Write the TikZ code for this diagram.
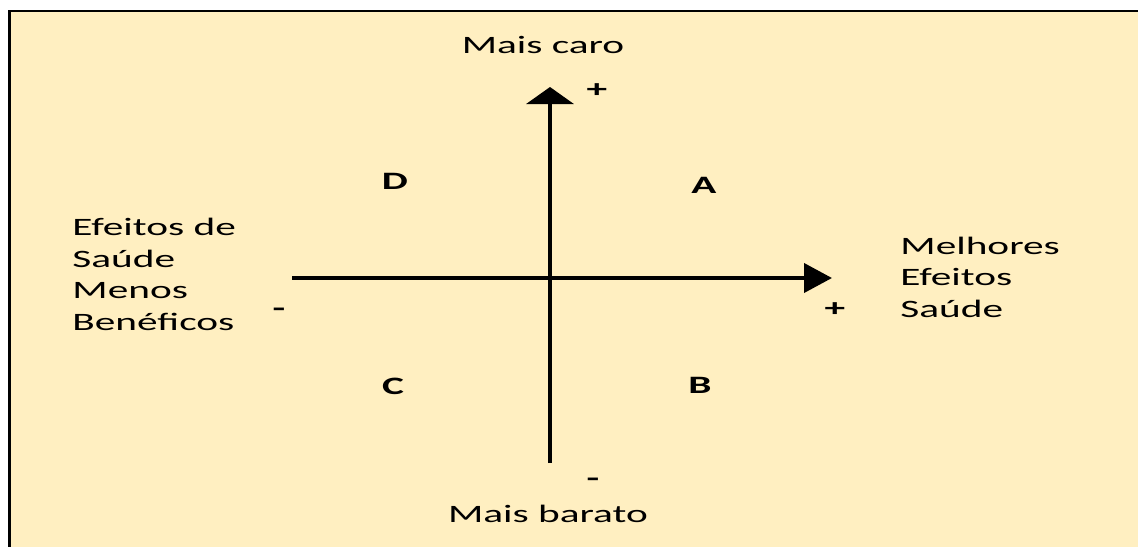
\documentclass[tikz,border=0pt]{standalone}
\usepackage{fontspec}
\setmainfont{Carlito}
\usepackage{tikz}
\usetikzlibrary{arrows.meta,positioning,calc}
\definecolor{creme}{RGB}{255,239,193}

\tikzset{
    rotulo/.style={inner sep=0pt, font=\fontsize{17.8pt}{22.3pt}\selectfont, xscale=1.65},
    quadrante/.style={rotulo, font=\fontsize{17.8pt}{22.3pt}\selectfont\bfseries},
    sinal/.style={rotulo, font=\fontsize{17.8pt}{22.3pt}\selectfont\bfseries},
    eixo/.style={line width=0.1cm}
}

\begin{document}
\begin{tikzpicture}[x=0.025cm, y=-0.025cm]
    % área da figura
    \useasboundingbox (0,0) rectangle (1138,546);
    \clip (0,0) rectangle (1138,546);
    \fill[white] (0,0) rectangle (1138,546);
    \draw[line width=0.0675cm, fill=creme] (9.5,11) rectangle (1160,570);

    % eixos
    \coordinate (Bx) at (292,278);
    \coordinate (Tx) at (832,278);
    \coordinate (By) at (550,463);
    \coordinate (Ty) at (550,87);
    \draw[eixo, -{Triangle[length=0.7cm, width=0.725cm]}] (Bx) -- (Tx);
    \draw[eixo, -{Triangle[length=0.425cm, width=1.175cm]}] (By) -- (Ty);

    % rótulos dos eixos
    \node[rotulo, anchor=base] (caro) at (543,53) {Mais caro};
    \node[rotulo, anchor=base] (barato) at (548,522) {Mais barato};
    \node[rotulo, anchor=base west, align=left] (menos) at (72,330)
        {Efeitos de\\Saúde\\Menos\\Benéficos};
    \node[rotulo, anchor=base west, align=left] (melhores) at (900,317)
        {Melhores\\Efeitos\\Saúde};

    % sinais
    \node[sinal] (maisy) at (597,91) {+};
    \node[sinal] (maisx) at (835,310) {+};
    \node[sinal] (menosx) at (279,312) {-};
    \node[sinal] (menosy) at (593,482) {-};

    % quadrantes
    \node[quadrante, anchor=base] (D) at (395,189) {D};
    \node[quadrante, anchor=base] (A) at (704,193) {A};
    \node[quadrante, anchor=base] (C) at (393,394) {C};
    \node[quadrante, anchor=base] (B) at (700,393) {B};
\end{tikzpicture}
\end{document}
